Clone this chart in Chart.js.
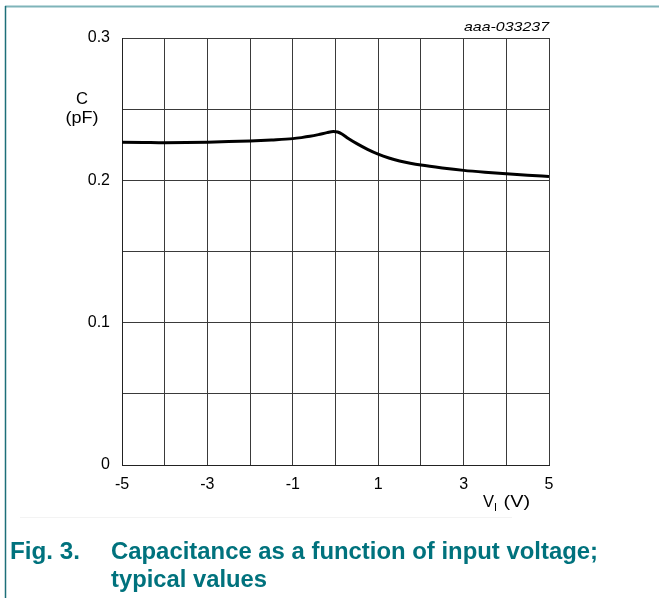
<!DOCTYPE html>
<html>
<head>
<meta charset="utf-8">
<script src="https://cdn.jsdelivr.net/npm/chart.js@4/dist/chart.umd.min.js"></script>
<style>
  html, body { margin: 0; padding: 0; background: #fff; }
  #wrap { width: 659px; height: 598px; position: relative; }
</style>
</head>
<body>
<div id="wrap"><canvas id="c" width="659" height="598"></canvas></div>
<script>
// Data
const voltage = [-5, -4.5, -4, -3.5, -3, -2.5, -2, -1.5, -1, -0.8, -0.6, -0.4, -0.2, -0.05, 0.05, 0.15, 0.3, 0.5, 0.75, 1, 1.25, 1.5, 1.75, 2, 2.5, 3, 3.5, 4, 4.5, 5];
const capacitance = [0.2268, 0.2266, 0.2264, 0.2265, 0.2268, 0.2272, 0.2277, 0.2284, 0.2293, 0.2300, 0.2309, 0.2321, 0.2335, 0.2343, 0.2340, 0.2326, 0.2294, 0.2258, 0.2218, 0.2184, 0.2157, 0.2136, 0.2120, 0.2107, 0.2087, 0.2070, 0.2057, 0.2046, 0.2036, 0.2027];
const xTickLabels = [-5, -3, -1, 1, 3, 5];
const yTickLabels = [0, 0.1, 0.2, 0.3];

const FONT = '"Liberation Sans", Arial, Helvetica, sans-serif';
const TEAL = '#00727d';

const points = voltage.map((v, i) => ({ x: v, y: capacitance[i] }));

// draw text stretched/compressed to a target width
function drawFit(ctx, text, x, y, width, align) {
  const w = ctx.measureText(text).width;
  const s = width / w;
  ctx.save();
  let left = x;
  if (align === 'center') left = x - width / 2;
  else if (align === 'right') left = x - width;
  ctx.translate(left, y);
  ctx.scale(s, 1);
  ctx.textAlign = 'left';
  ctx.fillText(text, 0, 0);
  ctx.restore();
}

const decor = {
  id: 'decor',
  beforeDraw(chart) {
    const ctx = chart.ctx;
    ctx.save();
    ctx.fillStyle = '#fff';
    ctx.fillRect(0, 0, chart.width, chart.height);
    ctx.restore();
  },
  afterDraw(chart) {
    const ctx = chart.ctx;
    const ca = chart.chartArea;
    ctx.save();
    // frame lines
    ctx.strokeStyle = '#7fb4b9';
    ctx.lineWidth = 2;
    ctx.beginPath(); ctx.moveTo(5, 6.5); ctx.lineTo(659, 6.5); ctx.stroke();
    ctx.strokeStyle = '#1d6f79';
    ctx.lineWidth = 1.5;
    ctx.beginPath(); ctx.moveTo(5.5, 6); ctx.lineTo(5.5, 598); ctx.stroke();
    // faint separator
    ctx.strokeStyle = '#f3f3f3';
    ctx.lineWidth = 1;
    ctx.beginPath(); ctx.moveTo(20, 517.5); ctx.lineTo(512, 517.5); ctx.stroke();

    ctx.fillStyle = '#000';
    ctx.textBaseline = 'middle';
    ctx.font = '17px ' + FONT;
    drawFit(ctx, 'C', 82, 99, 12, 'center');
    drawFit(ctx, '(pF)', 82, 118, 33, 'center');

    // x-axis title V_I (V)
    ctx.font = '16px ' + FONT;
    let x = 483;
    const y = 503;
    drawFit(ctx, 'V', x, y, 11, 'left');
    x += 11;
    ctx.font = '10px ' + FONT;
    drawFit(ctx, 'I', x, y + 5, 3, 'left');
    x += 4;
    ctx.font = '16px ' + FONT;
    drawFit(ctx, ' (V)', x, y, 530 - x, 'left');

    // figure code
    ctx.font = 'italic 13px ' + FONT;
    drawFit(ctx, 'aaa-033237', ca.right, 27, 85, 'right');

    // caption
    ctx.fillStyle = TEAL;
    ctx.textBaseline = 'alphabetic';
    ctx.font = 'bold 23.5px ' + FONT;
    drawFit(ctx, 'Fig. 3.', 10, 559, 70, 'left');
    drawFit(ctx, 'Capacitance as a function of input voltage;', 111, 559, 487, 'left');
    drawFit(ctx, 'typical values', 111, 587, 156, 'left');
    ctx.restore();
  }
};

new Chart(document.getElementById('c'), {
  type: 'line',
  data: {
    datasets: [{
      data: points,
      borderColor: '#000',
      borderWidth: 3,
      pointRadius: 0,
      fill: false,
      cubicInterpolationMode: 'monotone'
    }]
  },
  options: {
    responsive: false,
    animation: false,
    devicePixelRatio: 1,
    layout: { padding: { top: 38, right: 110, bottom: 0, left: 0 } },
    plugins: { legend: { display: false }, tooltip: { enabled: false } },
    scales: {
      x: {
        type: 'linear',
        min: -5, max: 5,
        ticks: {
          stepSize: 1,
          color: '#000',
          padding: 10,
          font: { family: FONT, size: 16 },
          maxRotation: 0,
          autoSkip: false,
          callback: (v) => xTickLabels.includes(v) ? String(v) : ''
        },
        grid: { color: '#3a3a3a', lineWidth: 1, drawTicks: false },
        border: { display: true, color: '#222', width: 1 },
        afterFit(s) { s.height = 133; }
      },
      y: {
        min: 0, max: 0.3,
        ticks: {
          stepSize: 0.05,
          color: '#000',
          padding: 12,
          font: { family: FONT, size: 16 },
          callback: (v) => {
            const r = Math.round(v * 100) / 100;
            return yTickLabels.some(t => Math.abs(t - r) < 1e-9) ? (r === 0 ? '0' : r.toFixed(1)) : '';
          }
        },
        grid: { color: '#3a3a3a', lineWidth: 1, drawTicks: false },
        border: { display: true, color: '#222', width: 1 },
        afterFit(s) { s.width = 122; }
      }
    }
  },
  plugins: [decor]
});
</script>
</body>
</html>
